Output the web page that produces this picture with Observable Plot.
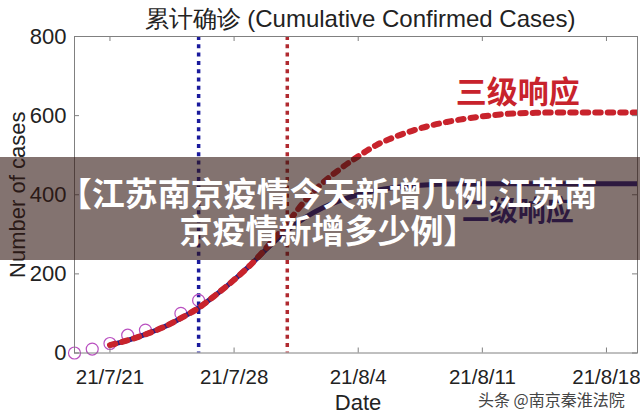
<!DOCTYPE html>
<html><head><meta charset="utf-8">
<script src="https://cdn.jsdelivr.net/npm/d3@7"></script>
<script src="https://cdn.jsdelivr.net/npm/@observablehq/plot@0.6"></script>
<style>
body{margin:0;background:#fff;}
#wrap{position:relative;width:640px;height:419px;overflow:hidden;}
#banner{position:absolute;left:0;top:157px;width:640px;height:103px;background:rgba(48,22,17,0.6);}
.bl{position:absolute;left:0;width:640px;padding-left:16px;box-sizing:border-box;text-align:center;white-space:nowrap;color:#fff;font-family:"Noto Sans CJK SC",sans-serif;font-weight:700;font-size:33px;line-height:1;}
#wm{position:absolute;left:478px;top:387px;font-family:"Noto Sans CJK SC",sans-serif;font-size:16px;color:#444;white-space:nowrap;text-shadow:0 0 2px #fff,0 0 2px #fff;}
</style></head><body><div id="wrap"></div>
<script>
// ---- data ----
const obsDates = ["2021-07-19","2021-07-20","2021-07-21","2021-07-22","2021-07-23","2021-07-25","2021-07-26"];
const obsCases = [0, 10, 24, 45, 58, 100, 133];

const fitStart = "2021-07-21", fitEnd = "2021-08-21"; // daily, 7/21 .. 8/20
const level2Fit = [20,32,47,65,88,114,148,185,226,270,310,342,367,386,400,411,418,422,425,427,428,428,428,428,428,428,428,428,428,428,428];
const level3Fit = [20,32,47,65,88,114,148,185,226,275,328,385,430,466,497,525,545,561,574,584,592,598,603,606,607,608,608,608,608,608,608];

const responseDates = ["2021-07-26","2021-07-31"];
const responseLabels = ["二级响应","三级响应"];
const labelDates = ["2021-08-13","2021-08-13"];
const labelValues = [356, 658];

const xTickDates = ["2021-07-21","2021-07-28","2021-08-04","2021-08-11","2021-08-18"];
const xTickLabels = ["21/7/21","21/7/28","21/8/4","21/8/11","21/8/18"];
const yTicks = [0,200,400,600,800];

const titleText = "累计确诊 (Cumulative Confirmed Cases)";
const xLabel = "Date", yLabel = "Number of cases";
const bannerLines = ["【江苏南京疫情今天新增几例,江苏南","京疫情新增多少例】"];
const watermark = "头条 @南京秦淮法院";

// ---- build ----
const parse = d3.utcParse("%Y-%m-%d");
const obs = obsDates.map((d,i)=>({date:parse(d), cases:obsCases[i]}));
const days = d3.utcDay.range(parse(fitStart), parse(fitEnd));
const fit = days.map((d,i)=>({date:d, l2:level2Fit[i], l3:level3Fit[i]}));
const xTicks = xTickDates.map(parse);
const fmt = d => xTickLabels[xTicks.findIndex(t=>+t===+d)];

const W=640,H=419,mL=74,mR=3,mT=36,mB=66.5;
const fw=W-mL-mR, fh=H-mT-mB, tk=5;
const font='"Liberation Sans", Arial, sans-serif';

const plot = Plot.plot({
  width:W, height:H, marginLeft:mL, marginRight:mR, marginTop:mT, marginBottom:mB,
  style:{fontFamily:font, fontSize:"22px", color:"#222", background:"transparent", overflow:"visible"},
  x:{type:"utc", domain:[parse("2021-07-19"), new Date(Date.UTC(2021,7,19,18))]},
  y:{domain:[0,800]},
  marks:[
    Plot.ruleX([parse(responseDates[0])], {stroke:"#1a1a9c", strokeWidth:3.5, strokeDasharray:"4,4.3"}),
    Plot.ruleX([parse(responseDates[1])], {stroke:"#b02a30", strokeWidth:3.5, strokeDasharray:"4,4.3"}),
    Plot.dot(obs, {x:"date", y:"cases", r:6, stroke:"#b94fc0", strokeWidth:1.2, fill:"none"}),
    Plot.line(fit, {x:"date", y:"l2", stroke:"#2a1e86", strokeWidth:5, curve:"monotone-x", clip:true}),
    Plot.line(fit, {x:"date", y:"l3", stroke:"#c8232c", strokeWidth:6, strokeDasharray:"5.5,7", curve:"monotone-x", clip:true}),
    Plot.text([0], {x:()=>parse(labelDates[0]), y:()=>labelValues[0], text:()=>responseLabels[0], fill:"#2a1e86", fontSize:28, fontWeight:"bold", fontFamily:'"Noto Sans CJK SC", sans-serif'}),
    Plot.text([0], {x:()=>parse(labelDates[1]), y:()=>labelValues[1], text:()=>responseLabels[1], fill:"#c8232c", stroke:"#fff", strokeWidth:2, paintOrder:"stroke", fontSize:31, fontWeight:"bold", fontFamily:'"Noto Sans CJK SC", sans-serif'}),
    Plot.frame({stroke:"#808080", strokeWidth:1}),
    Plot.tickX(xTicks, {x:d=>d, insetTop:fh-tk, stroke:"#808080"}),
    Plot.tickX(xTicks, {x:d=>d, insetBottom:fh-tk, stroke:"#808080"}),
    Plot.tickY(yTicks, {y:d=>d, insetRight:fw-tk, stroke:"#808080"}),
    Plot.tickY(yTicks, {y:d=>d, insetLeft:fw-tk, stroke:"#808080"}),
    Plot.axisX({ticks:xTicks, tickFormat:fmt, tickSize:0, tickPadding:16, fontSize:20.5, label:null}),
    Plot.axisY({ticks:yTicks, tickSize:0, tickPadding:8, label:null}),
    Plot.text([yLabel], {frameAnchor:"left", rotate:-90, dx:-57, textAnchor:"middle", lineAnchor:"middle", fontSize:22}),
    Plot.text([xLabel], {frameAnchor:"bottom", dy:50, dx:2, lineAnchor:"middle", fontSize:22}),
    Plot.text([titleText], {frameAnchor:"top", dy:-17, dx:4, lineAnchor:"middle", fontSize:24})
  ]
});
const wrap = document.getElementById("wrap");
wrap.appendChild(plot);
const banner = document.createElement("div");
banner.id="banner";
bannerLines.forEach((t,i)=>{
  const d=document.createElement("div"); d.className="bl"; d.textContent=t;
  d.style.top=(i===0?19:56)+"px"; banner.appendChild(d);
});
wrap.appendChild(banner);
const wm=document.createElement("div"); wm.id="wm"; wm.textContent=watermark; wrap.appendChild(wm);
</script></body></html>
